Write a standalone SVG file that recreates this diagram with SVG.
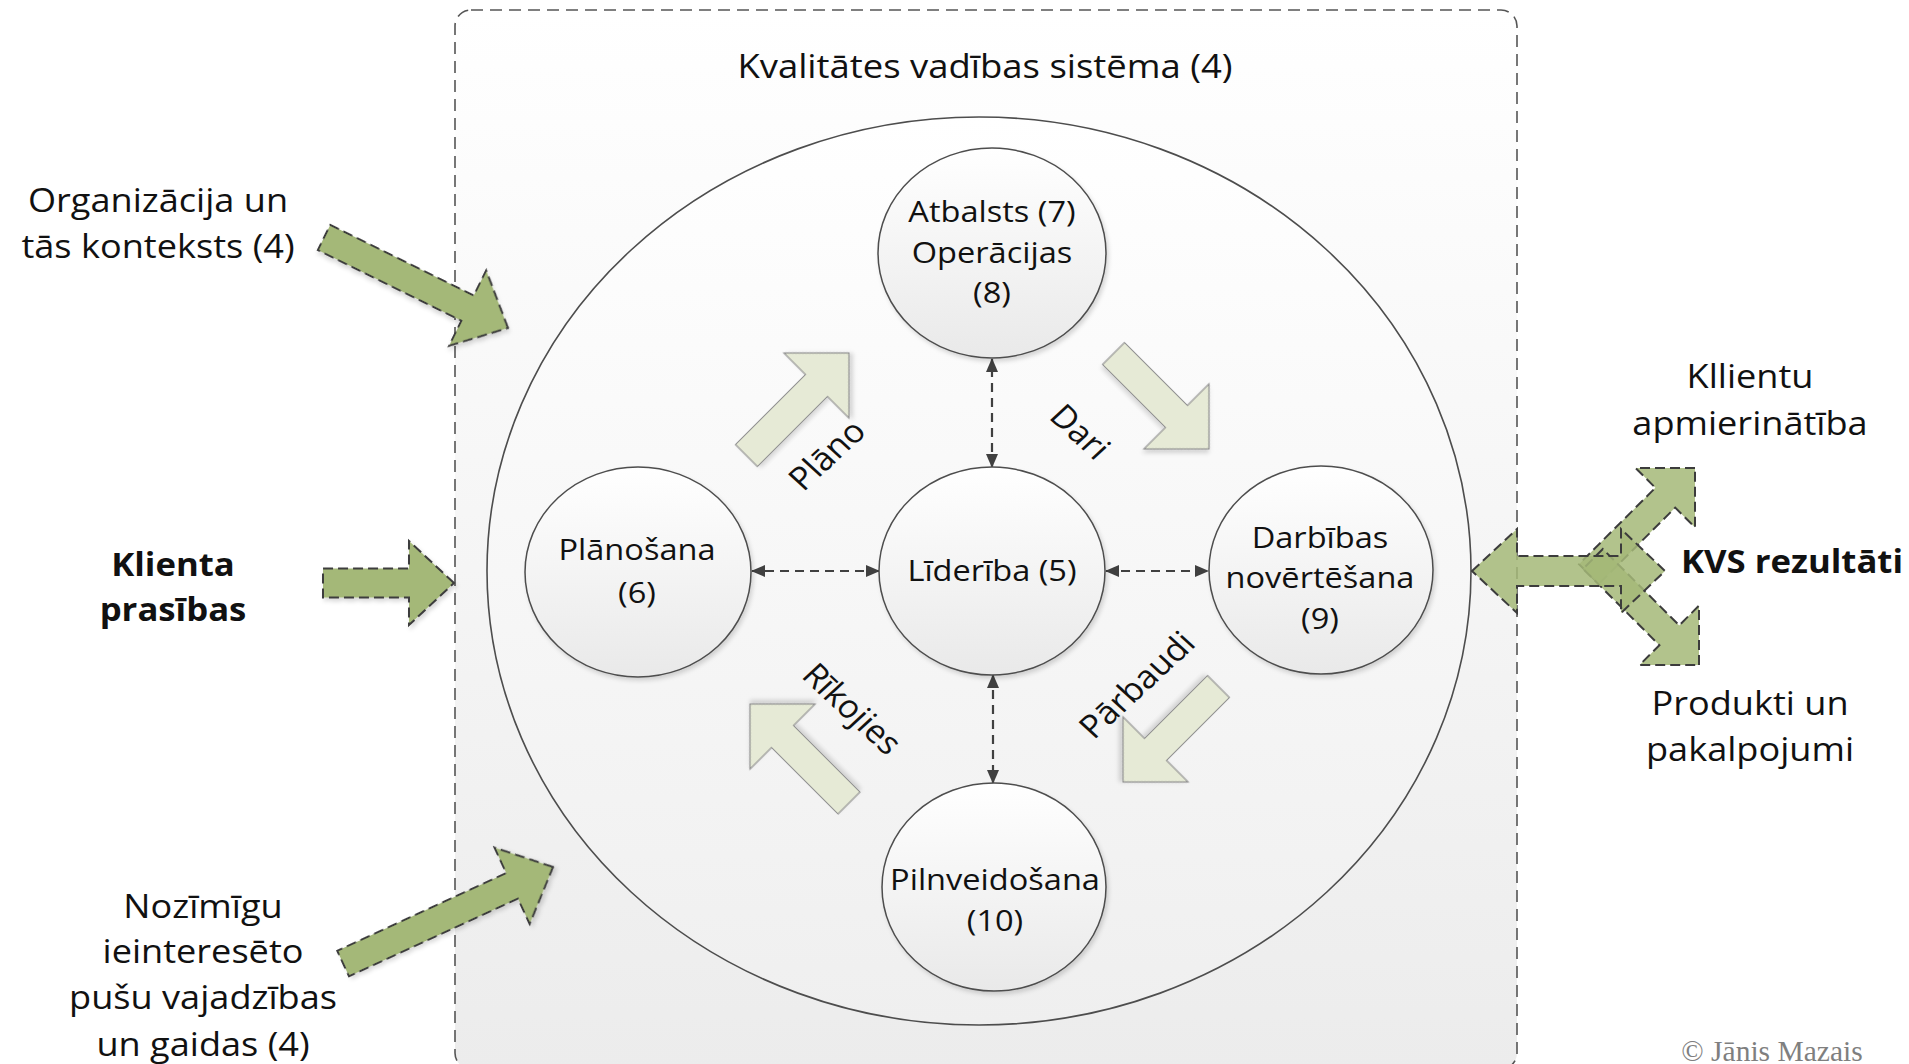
<svg xmlns="http://www.w3.org/2000/svg" width="1909" height="1064" viewBox="0 0 1909 1064">
  <defs>
    <linearGradient id="gBox" x1="0" y1="0" x2="0" y2="1">
      <stop offset="0" stop-color="#ffffff"/>
      <stop offset="1" stop-color="#ececec"/>
    </linearGradient>
    <linearGradient id="gBig" x1="0" y1="0" x2="0" y2="1">
      <stop offset="0" stop-color="#ffffff"/>
      <stop offset="1" stop-color="#efefef"/>
    </linearGradient>
    <linearGradient id="gNode" x1="0" y1="0" x2="0" y2="1">
      <stop offset="0" stop-color="#ffffff"/>
      <stop offset="1" stop-color="#e9e9e9"/>
    </linearGradient>
    <filter id="shadow" x="-20%" y="-20%" width="140%" height="140%">
      <feDropShadow dx="2" dy="3" stdDeviation="2" flood-color="#000" flood-opacity="0.15"/>
    </filter>
    <marker id="tip" viewBox="0 0 14 12" refX="13" refY="6" markerWidth="14" markerHeight="12" markerUnits="userSpaceOnUse" orient="auto-start-reverse">
      <path d="M0,0 L14,6 L0,12 Z" fill="#404040"/>
    </marker>
    <!-- block arrows, tip at origin pointing along +x -->
    <path id="pdca143" d="M0,0 L-46,-46 L-46,-15.5 L-145,-15.5 L-145,15.5 L-46,15.5 L-46,46 Z"/>
    <path id="pdca135" d="M0,0 L-46,-46 L-46,-15.5 L-135,-15.5 L-135,15.5 L-46,15.5 L-46,46 Z"/>
    <path id="pdca140" d="M0,0 L-46,-46 L-46,-15.5 L-140,-15.5 L-140,15.5 L-46,15.5 L-46,46 Z"/>
  </defs>
  <style>
    .t { font-family: "Open Sans", "Noto Sans", sans-serif; font-size: 30px; fill: #111; text-anchor: middle; }
    .lbl { font-size: 33.3px; }
    .hdr { font-size: 33.6px; }
    .rot { font-size: 32px; }
    .b { font-weight: bold; font-size: 32px; }
    .node { fill: url(#gNode); stroke: #4d4d4d; stroke-width: 1.5; filter: url(#shadow); }
    .green { fill: #a4b878; stroke: #3c3c3c; stroke-width: 2; stroke-dasharray: 10 5; filter: url(#shadow); }
    .green2 { fill: #a4b878; fill-opacity: 0.85; stroke: #3c3c3c; stroke-width: 2; stroke-dasharray: 10 5; }
    .pdca { fill: #e6ead6; stroke: #8f8f8f; stroke-width: 1.2; filter: url(#shadow); }
    .link { stroke: #404040; stroke-width: 2.2; stroke-dasharray: 9 6; fill: none; marker-start: url(#tip); marker-end: url(#tip); }
  </style>

  <rect width="1909" height="1064" fill="#ffffff"/>

  <!-- quality management system boundary -->
  <g id="qms">
    <rect x="455" y="10" width="1062" height="1059" rx="16" fill="url(#gBox)" stroke="#555" stroke-width="1.6" stroke-dasharray="12 7"/>
    <text class="t hdr" transform="translate(985 0) scale(1.085 1)"><tspan x="0" y="78">Kvalitātes vadības sistēma (4)</tspan></text>
  </g>

  <g id="cycle">
    <ellipse cx="979" cy="571" rx="492" ry="454" fill="url(#gBig)" stroke="#4d4d4d" stroke-width="1.6"/>
  </g>

  <!-- PDCA direction arrows -->
  <g id="pdca-arrows">
    <use href="#pdca143" class="pdca" transform="translate(849 353) rotate(-45)"/>
    <use href="#pdca135" class="pdca" transform="translate(1209 449) rotate(45)"/>
    <use href="#pdca135" class="pdca" transform="translate(1123 782) rotate(135)"/>
    <use href="#pdca140" class="pdca" transform="translate(750 704) rotate(-135)"/>
    <text class="t rot" transform="translate(827 455) scale(1.085 1) rotate(-45)"><tspan x="0" y="11">Plāno</tspan></text>
    <text class="t rot" transform="translate(1080 432) scale(1.085 1) rotate(45)"><tspan x="0" y="11">Dari</tspan></text>
    <text class="t rot" transform="translate(1137 685) scale(1.085 1) rotate(-45)"><tspan x="0" y="11">Pārbaudi</tspan></text>
    <text class="t rot" transform="translate(852 709) scale(1.085 1) rotate(45)"><tspan x="0" y="11">Rīkojies</tspan></text>
  </g>

  <!-- connectors between leadership and the other clauses -->
  <g id="connectors">
    <line class="link" x1="992" y1="467" x2="992" y2="359"/>
    <line class="link" x1="993" y1="675" x2="993" y2="783"/>
    <line class="link" x1="879" y1="571" x2="752" y2="571"/>
    <line class="link" x1="1106" y1="571" x2="1208" y2="571"/>
  </g>

  <g id="node-support">
    <ellipse class="node" cx="992" cy="253" rx="114" ry="105"/>
    <text class="t" transform="translate(992 0) scale(1.085 1)"><tspan x="0" y="222">Atbalsts (7)</tspan><tspan x="0" y="263">Operācijas</tspan><tspan x="0" y="303">(8)</tspan></text>
  </g>
  <g id="node-leadership">
    <ellipse class="node" cx="992" cy="571" rx="113" ry="104"/>
    <text class="t" transform="translate(992 0) scale(1.085 1)"><tspan x="0" y="581">Līderība (5)</tspan></text>
  </g>
  <g id="node-planning">
    <ellipse class="node" cx="638" cy="572" rx="113" ry="105"/>
    <text class="t" transform="translate(637 0) scale(1.085 1)"><tspan x="0" y="560">Plānošana</tspan><tspan x="0" y="603">(6)</tspan></text>
  </g>
  <g id="node-evaluation">
    <ellipse class="node" cx="1321" cy="570" rx="112" ry="104"/>
    <text class="t" transform="translate(1320 0) scale(1.085 1)"><tspan x="0" y="548">Darbības</tspan><tspan x="0" y="588">novērtēšana</tspan><tspan x="0" y="629">(9)</tspan></text>
  </g>
  <g id="node-improvement">
    <ellipse class="node" cx="994" cy="887" rx="112" ry="104"/>
    <text class="t" transform="translate(995 0) scale(1.085 1)"><tspan x="0" y="890">Pilnveidošana</tspan><tspan x="0" y="931">(10)</tspan></text>
  </g>

  <!-- inputs -->
  <g id="input-context">
    <path class="green" d="M0,0 L-45,-42 L-45,-14 L-205,-14 L-205,14 L-45,14 L-45,42 Z" transform="translate(508 328) rotate(26.2)"/>
    <text class="t lbl" transform="translate(158 0) scale(1.085 1)"><tspan x="0" y="212">Organizācija un</tspan><tspan x="0" y="258">tās konteksts (4)</tspan></text>
  </g>
  <g id="input-customer">
    <path class="green" d="M0,0 L-45,-42 L-45,-14.5 L-131,-14.5 L-131,14.5 L-45,14.5 L-45,42 Z" transform="translate(454 583)"/>
    <text class="t b" transform="translate(173 0) scale(1.085 1)"><tspan x="0" y="576">Klienta</tspan><tspan x="0" y="621">prasības</tspan></text>
  </g>
  <g id="input-parties">
    <path class="green" d="M0,0 L-45,-42 L-45,-14 L-231,-14 L-231,14 L-45,14 L-45,42 Z" transform="translate(553 867) rotate(-24.7)"/>
    <text class="t lbl" transform="translate(203 0) scale(1.085 1)"><tspan x="0" y="918">Nozīmīgu</tspan><tspan x="0" y="963">ieinteresēto</tspan><tspan x="0" y="1009">pušu vajadzības</tspan><tspan x="0" y="1056">un gaidas (4)</tspan></text>
  </g>

  <!-- results -->
  <g id="results">
    <path class="green2" d="M0,0 L-42,-42 L-42,-14 L-150,-14 L-150,14 L-42,14 L-42,42 Z" transform="translate(1695 468) rotate(-45)"/>
    <path class="green2" d="M0,0 L-42,-42 L-42,-14 L-150,-14 L-150,14 L-42,14 L-42,42 Z" transform="translate(1699 665) rotate(45)"/>
    <path class="green2" d="M1472,571 L1517,529 L1517,556 L1621,556 L1621,529 L1665,571 L1621,613 L1621,586 L1517,586 L1517,613 Z"/>
    <text class="t lbl" transform="translate(1750 0) scale(1.085 1)"><tspan x="0" y="388">Kllientu</tspan><tspan x="0" y="435">apmierinātība</tspan></text>
    <text class="t b" transform="translate(1792 0) scale(1.085 1)"><tspan x="0" y="573">KVS rezultāti</tspan></text>
    <text class="t lbl" transform="translate(1750 0) scale(1.085 1)"><tspan x="0" y="715">Produkti un</tspan><tspan x="0" y="761">pakalpojumi</tspan></text>
  </g>

  <text x="1772" y="1061" font-family="'Liberation Serif', serif" font-size="29.5" fill="#7f7f7f" text-anchor="middle">© Jānis Mazais</text>
</svg>
